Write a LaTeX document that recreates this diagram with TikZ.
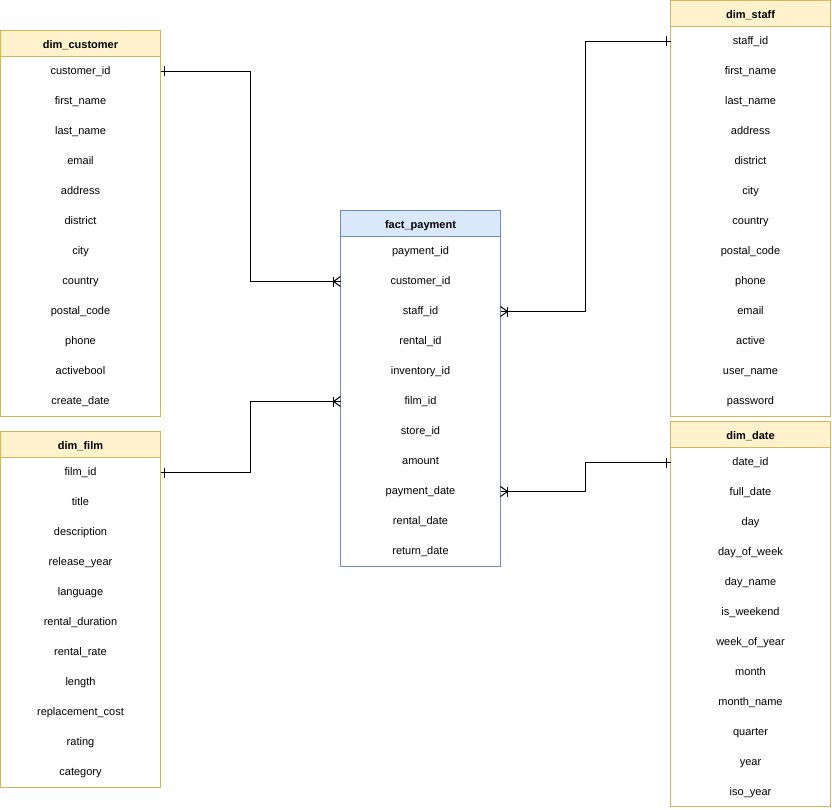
\documentclass[tikz,border=0pt]{standalone}
\usepackage{fontspec}
\setmainfont{Liberation Sans}
\usetikzlibrary{calc}
\definecolor{yelfill}{HTML}{FFF2CC}
\definecolor{yelline}{HTML}{D6B656}
\definecolor{blufill}{HTML}{DAE8FC}
\definecolor{bluline}{HTML}{6C8EBF}
\tikzset{
  yelhead/.style={fill=yelfill},
  bluhead/.style={fill=blufill},
  yelbox/.style={draw=yelline, line width=1pt},
  blubox/.style={draw=bluline, line width=1pt},
  headtext/.style={inner sep=0pt, text height=8pt, text depth=2.5pt, font=\fontsize{11}{13}\selectfont\bfseries},
  rowtext/.style={minimum width=160pt, inner sep=0pt, outer sep=0pt, text height=8pt, text depth=2.5pt, font=\fontsize{11}{13}\selectfont},
  conn/.style={draw=black, line width=1pt},
}
\newcommand{\ertable}[7]{%
  \fill[#5head] (#2,#3) rectangle ++(160,26);
  \draw[#5box] (#2,#3) rectangle ++(160,#6);
  \draw[#5box] ($(#2,#3)+(0,26)$) -- ++(160,0);
  \node[headtext] (#1) at ($(#2,#3)+(80,15)$) {#4};
  \foreach \r [count=\i from 0] in {#7} {
    \node[rowtext] (#1-\i) at ($(#2,#3)+(80,41+30*\i)$) {\r};
  }
}
\newcommand{\onemark}[2]{% #1 point, #2 direction
  \draw[conn] ($(#1)+(#2*4,-5)$) -- ++(0,10);
}
\newcommand{\manymark}[2]{% #1 point on box edge, #2 direction away from box
  \draw[conn] ($(#1)+(#2*7,-5)$) -- ++(0,10);
  \draw[conn] ($(#1)+(0,-5)$) -- ($(#1)+(#2*7,0)$) -- ($(#1)+(0,5)$);
}
\begin{document}
\begin{tikzpicture}[x=1pt,y=-1pt]
\useasboundingbox (0,0) rectangle (832,810);
\ertable{cust}{0.5}{30.5}{dim\_customer}{yel}{385.5}{customer\_id,first\_name,last\_name,email,address,district,city,country,postal\_code,phone,activebool,create\_date}
\ertable{film}{0.5}{431.5}{dim\_film}{yel}{355.5}{film\_id,title,description,release\_year,language,rental\_duration,rental\_rate,length,replacement\_cost,rating,category}
\ertable{fact}{340.5}{210.5}{fact\_payment}{blu}{355.5}{payment\_id,customer\_id,staff\_id,rental\_id,inventory\_id,film\_id,store\_id,amount,payment\_date,rental\_date,return\_date}
\ertable{staff}{670.5}{0.5}{dim\_staff}{yel}{415.5}{staff\_id,first\_name,last\_name,address,district,city,country,postal\_code,phone,email,active,user\_name,password}
\ertable{date}{670.5}{421.5}{dim\_date}{yel}{384.5}{date\_id,full\_date,day,day\_of\_week,day\_name,is\_weekend,week\_of\_year,month,month\_name,quarter,year,iso\_year}

% connectors
\coordinate (c1) at (cust-0.east);
\coordinate (f1) at (fact-1.west);
\draw[conn] (c1) -- ++(90,0) |- (f1);
\onemark{c1}{1}
\manymark{f1}{-1}

\coordinate (c2) at (film-0.east);
\coordinate (f5) at (fact-5.west);
\draw[conn] (c2) -- ++(90,0) |- (f5);
\onemark{c2}{1}
\manymark{f5}{-1}

\coordinate (c3) at (staff-0.west);
\coordinate (f2) at (fact-2.east);
\draw[conn] (c3) -- ++(-85,0) |- (f2);
\onemark{c3}{-1}
\manymark{f2}{1}

\coordinate (c4) at (date-0.west);
\coordinate (f8) at (fact-8.east);
\draw[conn] (c4) -- ++(-85,0) |- (f8);
\onemark{c4}{-1}
\manymark{f8}{1}
\end{tikzpicture}
\end{document}
